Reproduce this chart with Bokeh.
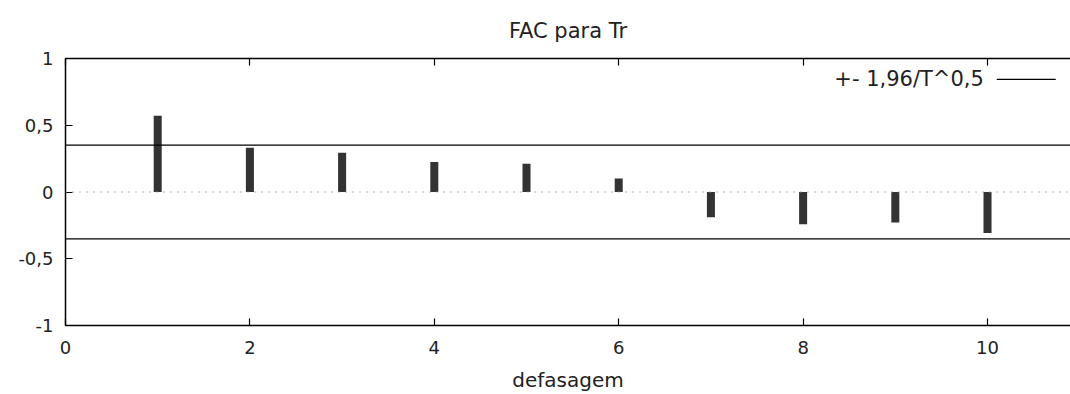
from bokeh.plotting import figure
from bokeh.models import (Range1d, LinearAxis, FixedTicker, Span, Label, Arrow,
                          ColumnDataSource)
from bokeh.embed import file_html
from bokeh.resources import INLINE

# ---- data ----
lags = [1, 2, 3, 4, 5, 6, 7, 8, 9, 10]
acf = [0.572, 0.331, 0.294, 0.224, 0.212, 0.102, -0.189, -0.241, -0.228, -0.308]
conf_band = 0.351
x_ticks = [0, 2, 4, 6, 8, 10]
y_ticks = [-1, -0.5, 0, 0.5, 1]
y_tick_labels = {-1: "-1", -0.5: "-0,5", 0: "0", 0.5: "0,5", 1: "1"}
title_text = "FAC para Tr"
x_label = "defasagem"
legend_text = "+- 1,96/T^0,5"

X_MAX = 10.9
FONT = "DejaVu Sans"
FS_TICK = "18px"
FS_TEXT = "21px"
TXT = "#222222"

p = figure(width=1070, height=394, output_backend="svg", toolbar_location=None,
           x_range=Range1d(0, X_MAX), y_range=Range1d(-1, 1),
           min_border_left=65, min_border_right=0, min_border_top=58,
           min_border_bottom=68)
p.outline_line_color = None
p.grid.visible = False
p.background_fill_color = "white"
p.border_fill_color = "white"

p.title.text = title_text
p.title.align = "center"
p.title.text_font = FONT
p.title.text_font_size = FS_TEXT
p.title.text_font_style = "normal"
p.title.text_color = TXT
p.title.standoff = 32

# zero dotted line
p.add_layout(Span(location=0, dimension="width", line_color="#999999",
                  line_width=1.5, line_dash="1 6"))

src = ColumnDataSource(dict(x=lags, top=acf, bottom=[0] * len(lags)))
p.vbar(x="x", top="top", bottom="bottom", width=0.087, source=src,
       fill_color="#333333", line_color=None)

p.add_layout(Span(location=conf_band, dimension="width", line_color="black", line_width=1.3))
p.add_layout(Span(location=-conf_band, dimension="width", line_color="black", line_width=1.3))

# axes
for ax in (p.xaxis[0], p.yaxis[0]):
    ax.axis_line_color = "black"
    ax.axis_line_width = 1.5
    ax.major_tick_in = 7
    ax.major_tick_out = 0
    ax.minor_tick_line_color = None
    ax.major_tick_line_color = "black"
    ax.major_tick_line_width = 1.2
    ax.major_label_text_font = FONT
    ax.major_label_text_font_size = FS_TICK
    ax.major_label_text_color = TXT

p.xaxis.ticker = FixedTicker(ticks=x_ticks)
p.xaxis.major_label_standoff = 15
p.xaxis.axis_label = x_label
p.xaxis.axis_label_text_font = FONT
p.xaxis.axis_label_text_font_size = "20px"
p.xaxis.axis_label_text_font_style = "normal"
p.xaxis.axis_label_text_color = TXT
p.xaxis.axis_label_standoff = 11

p.yaxis.ticker = FixedTicker(ticks=y_ticks)
p.yaxis.major_label_overrides = y_tick_labels
p.yaxis.major_label_standoff = 12

top_ax = LinearAxis(ticker=FixedTicker(ticks=x_ticks), major_tick_in=7, major_tick_out=0,
                    minor_tick_line_color=None, axis_line_color="black", axis_line_width=1.5,
                    major_tick_line_width=1.2,
                    major_label_overrides={t: "" for t in x_ticks},
                    major_label_standoff=0)
p.add_layout(top_ax, "above")

# key: text followed by a line sample (top right corner)
p.add_layout(Label(x=9.96, y=0.843, text=legend_text, text_align="right",
                   text_baseline="middle", text_font=FONT, text_font_size=FS_TEXT,
                   text_color=TXT))
p.add_layout(Arrow(x_start=10.10, y_start=0.843, x_end=10.74, y_end=0.843, end=None,
                   line_color="black", line_width=1.3))

open("out.html", "w").write(file_html(p, INLINE))
